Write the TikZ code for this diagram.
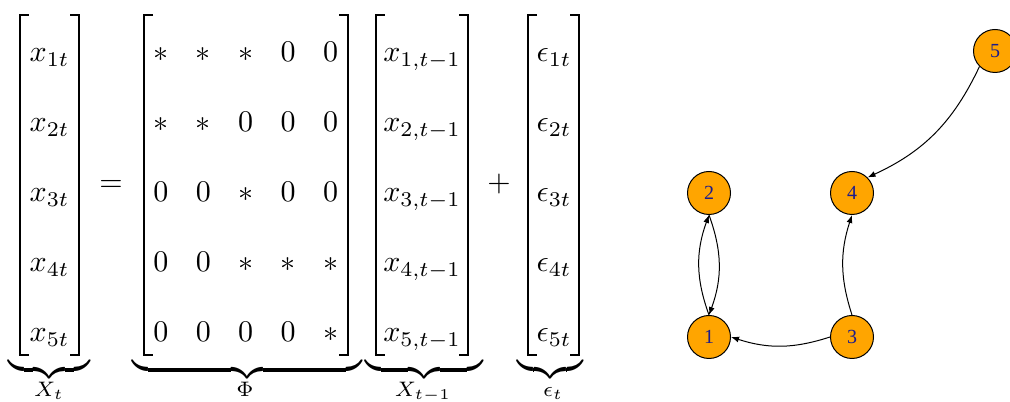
\documentclass[tikz,border=0pt]{standalone}
\usepackage{amsmath,amssymb}
\usepackage{fontspec}
\newfontfamily\vlabelfont{Liberation Serif}
\usepackage{tikz}
\usetikzlibrary{arrows.meta}
\definecolor{vorange}{HTML}{FFA500}
\definecolor{vblue}{HTML}{1C1C8C}

\tikzset{
  mathtxt/.style={scale=2.25, inner sep=0pt, anchor=base},
  ubrace/.style={scale=2.6, inner sep=0pt, anchor=south},
  bracket/.style={line width=1.5pt},
  vertex/.style={circle, draw, fill=vorange, minimum size=32.25pt, inner sep=0pt,
    line width=0.75pt, text=vblue, font=\vlabelfont\fontsize{15}{15}\selectfont},
  arc/.style={-{Latex[length=6pt,width=4.5pt]}, line width=0.75pt}
}

\begin{document}
\begin{tikzpicture}[x=0.75pt,y=0.75pt]
        \useasboundingbox (0,0) rectangle (1010,402);

        % brackets
        \foreach \l/\r in {19.5/79, 144/348, 375.5/468, 528/579} {
          \draw[bracket] (\l+9,387) -- (\l,387) -- (\l,47) -- (\l+9,47);
          \draw[bracket] (\r-9,387) -- (\r,387) -- (\r,47) -- (\r-9,47);
        }

        % vectors
        \foreach \i/\y in {1/340,2/270,3/200,4/130,5/60} {
          \node[mathtxt] (x\i) at (49.5,\y) {$x_{\i t}$};
          \node[mathtxt] (xl\i) at (422,\y) {$x_{\i,t-1}$};
          \node[mathtxt] (e\i) at (554,\y) {$\epsilon_{\i t}$};
        }

        % coefficient matrix
        \foreach \row [count=\i] in {{*,*,*,0,0},{*,*,0,0,0},{0,0,*,0,0},{0,0,*,*,*},{0,0,0,0,*}} {
          \pgfmathsetmacro\y{410-70*\i}
          \foreach \v [count=\j] in \row {
            \node[mathtxt] (p\i\j) at ({118.5+42.4*\j},\y) {$\v$};
          }
        }

        \node[mathtxt] (eq) at (111,210) {$=$};
        \node[mathtxt] (pl) at (499,210) {$+$};

        % underbraces and their labels
        \node[ubrace] (bX) at (49,19) {$\underbrace{\hspace{23.6pt}}$};
        \node[ubrace] (bP) at (247,19) {$\underbrace{\hspace{66.3pt}}$};
        \node[ubrace] (bL) at (424,19) {$\underbrace{\hspace{34pt}}$};
        \node[ubrace] (bE) at (550,19) {$\underbrace{\hspace{19pt}}$};
        \node[mathtxt] (lX) at (49,5) {$\scriptstyle X_t$};
        \node[mathtxt] (lP) at (245,5) {$\scriptstyle \Phi$};
        \node[mathtxt] (lL) at (423,5) {$\scriptstyle X_{t-1}$};
        \node[mathtxt] (lE) at (553,5) {$\scriptstyle \epsilon_t$};

        % graph
        \node[vertex] (n1) at (709,65) {1};
        \node[vertex] (n2) at (709,209) {2};
        \node[vertex] (n3) at (852,65) {3};
        \node[vertex] (n4) at (852,209) {4};
        \node[vertex] (n5) at (995,351) {5};

        \draw[arc] (n1.north) to[bend left=20] (n2.south);
        \draw[arc] (n2.south) to[bend left=20] (n1.north);
        \draw[arc] (n3.west) to[bend left=18] (n1.east);
        \draw[arc] (n3.north) to[bend left=18] (n4.south);
        \draw[arc] (n5.225) to[bend left=20] (n4.45);
\end{tikzpicture}
\end{document}
